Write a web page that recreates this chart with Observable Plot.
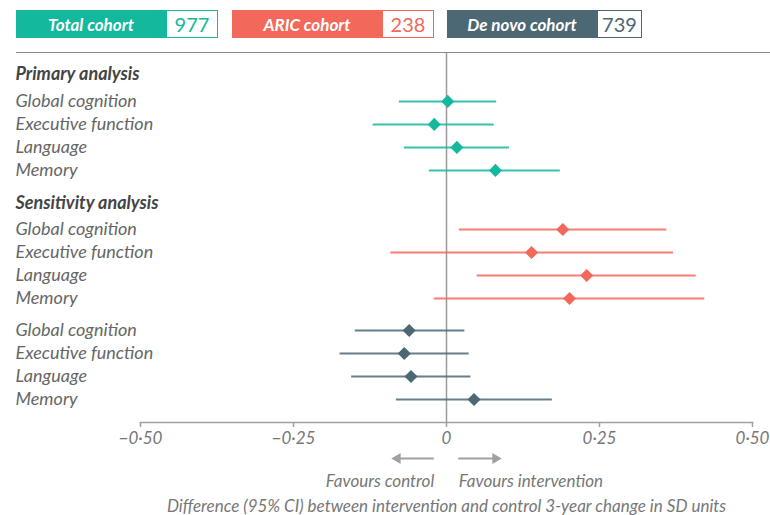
<!DOCTYPE html>
<html><head><meta charset="utf-8">
<script src="https://cdn.jsdelivr.net/npm/d3@7"></script>
<script src="https://cdn.jsdelivr.net/npm/@observablehq/plot@0.6"></script>
<style>
body{margin:0;background:#fff;font-family:Lato,"DejaVu Sans Condensed",sans-serif;}
#legend{position:relative;height:53px;width:770px;}
#legend .line{position:absolute;left:16px;right:0;top:52px;height:0;border-top:1.5px solid #8a8a8a}
.box{position:absolute;top:10px;height:28px;display:flex;}
.box .name{color:#fff;font-style:italic;font-weight:bold;font-size:17px;display:flex;align-items:center;justify-content:center;height:28px}
.box .n{background:#fff;font-size:20px;display:flex;align-items:center;justify-content:center;box-sizing:border-box;border:1px solid;height:28px}
#chart svg{display:block}
</style></head>
<body>
<div id="legend"><div class="line"></div></div>
<div id="chart"></div>
<script>
// ---- data ----
const cohorts = ["Total cohort", "ARIC cohort", "De novo cohort"];
const cohortN = [977, 238, 739];
const cohortColors = ["#14b89c", "#f2685a", "#4b6874"];
const sections = ["Primary analysis", "Sensitivity analysis", null];
const outcomes = ["Global cognition", "Executive function", "Language", "Memory"];

const totalEst = [0.002, -0.020, 0.017, 0.080];
const totalLo  = [-0.077, -0.120, -0.069, -0.028];
const totalHi  = [0.082, 0.078, 0.103, 0.186];

const aricEst = [0.190, 0.139, 0.229, 0.201];
const aricLo  = [0.021, -0.091, 0.050, -0.020];
const aricHi  = [0.360, 0.371, 0.408, 0.422];

const denovoEst = [-0.061, -0.069, -0.058, 0.045];
const denovoLo  = [-0.149, -0.174, -0.155, -0.082];
const denovoHi  = [0.030, 0.037, 0.040, 0.173];

const tickValues = [-0.5, -0.25, 0, 0.25, 0.5];
const favourLabels = ["Favours control", "Favours intervention"];
const xLabel = "Difference (95% CI) between intervention and control 3-year change in SD units";

// ---- layout (row slots) ----
const groupStart = [0, 5.61, 11.13];
const headerOffset = [1.17, 1.13, 0];
const axisSlot = 15.13;
const rowPx = 23;

const est = [totalEst, aricEst, denovoEst];
const lo = [totalLo, aricLo, denovoLo];
const hi = [totalHi, aricHi, denovoHi];

const rows = [];
const headers = [];
cohorts.forEach((c, g) => {
  if (sections[g]) headers.push({text: sections[g], y: groupStart[g]});
  outcomes.forEach((o, i) => {
    rows.push({cohort: c, outcome: o, est: est[g][i], lo: lo[g][i], hi: hi[g][i],
      color: cohortColors[g], y: groupStart[g] + headerOffset[g] + i});
  });
});

// ---- legend ----
const legendLayout = [[16, 150, 52], [232, 150, 52], [447, 150, 45]];
const legend = document.getElementById("legend");
cohorts.forEach((c, g) => {
  const [left, w1, w2] = legendLayout[g];
  const b = document.createElement("div");
  b.className = "box";
  b.style.left = left + "px";
  b.innerHTML = `<div class="name" style="width:${w1}px;background:${cohortColors[g]}">${c}</div>` +
    `<div class="n" style="width:${w2}px;color:${cohortColors[g]};border-color:${cohortColors[g]}">${cohortN[g]}</div>`;
  legend.appendChild(b);
});

// ---- chart ----
const fmt = d => d === 0 ? "0" : (d < 0 ? "\u2212" : "") + Math.abs(d).toFixed(2).replace(".", "\u00b7");
const arrowDir = [-1, 1];
const arrows = arrowDir.map((s, i) => ({x1: s * 0.02, x2: s * 0.08, s, label: favourLabels[i]}));
const yArrow = axisSlot + 36 / rowPx;
const yFavour = axisSlot + 59 / rowPx;
const yLabel = axisSlot + 84 / rowPx;

const plot = Plot.plot({
  width: 770,
  height: 462,
  marginLeft: 140,
  marginRight: 18,
  marginTop: 21,
  marginBottom: 93,
  x: {domain: [-0.5, 0.5]},
  y: {domain: [0, axisSlot], reverse: true, axis: null},
  color: {type: "identity"},
  style: {fontFamily: 'Lato,"DejaVu Sans Condensed",sans-serif', fontStyle: "italic", background: "#fff"},
  marks: [
    Plot.ruleX([0], {stroke: "#9a9a9a", strokeWidth: 1.5, insetTop: -21}),
    Plot.frame({anchor: "bottom", stroke: "#a0a0a0", strokeWidth: 1.5}),
    Plot.axisX({ticks: tickValues, tickFormat: fmt, tickSize: 5, tickPadding: 4, fontSize: 17, fill: "#777", stroke: "#a0a0a0", strokeWidth: 1.5, label: null}),
    Plot.text(headers, {y: "y", text: "text", frameAnchor: "left", dx: -125, textAnchor: "start", fontWeight: "bold", fill: "#444", fontSize: 18}),
    Plot.text(rows, {y: "y", text: "outcome", frameAnchor: "left", dx: -125, textAnchor: "start", fill: "#666", fontSize: 18}),
    Plot.ruleY(rows, {y: "y", x1: "lo", x2: "hi", stroke: "color", strokeWidth: 2, strokeOpacity: 0.85}),
    Plot.dot(rows, {x: "est", y: "y", symbol: "diamond2", r: 5.9, fill: "color", stroke: null}),
    Plot.ruleY(arrows, {y: () => yArrow, x1: "x1", x2: "x2", stroke: "#a0a0a0", strokeWidth: 2}),
    Plot.dot(arrows, {x: "x2", y: () => yArrow, symbol: "triangle", r: 4, fill: "#a0a0a0", stroke: null, rotate: d => d.s * 90}),
    Plot.text(arrows.filter(d => d.s < 0), {x: "x1", y: () => yFavour, text: "label", textAnchor: "end", fill: "#777", fontSize: 17}),
    Plot.text(arrows.filter(d => d.s > 0), {x: "x1", y: () => yFavour, text: "label", textAnchor: "start", fill: "#777", fontSize: 17}),
    Plot.text([xLabel], {x: () => 0, y: () => yLabel, text: d => d, fill: "#777", fontSize: 17})
  ]
});
document.getElementById("chart").appendChild(plot);
</script>
</body></html>
